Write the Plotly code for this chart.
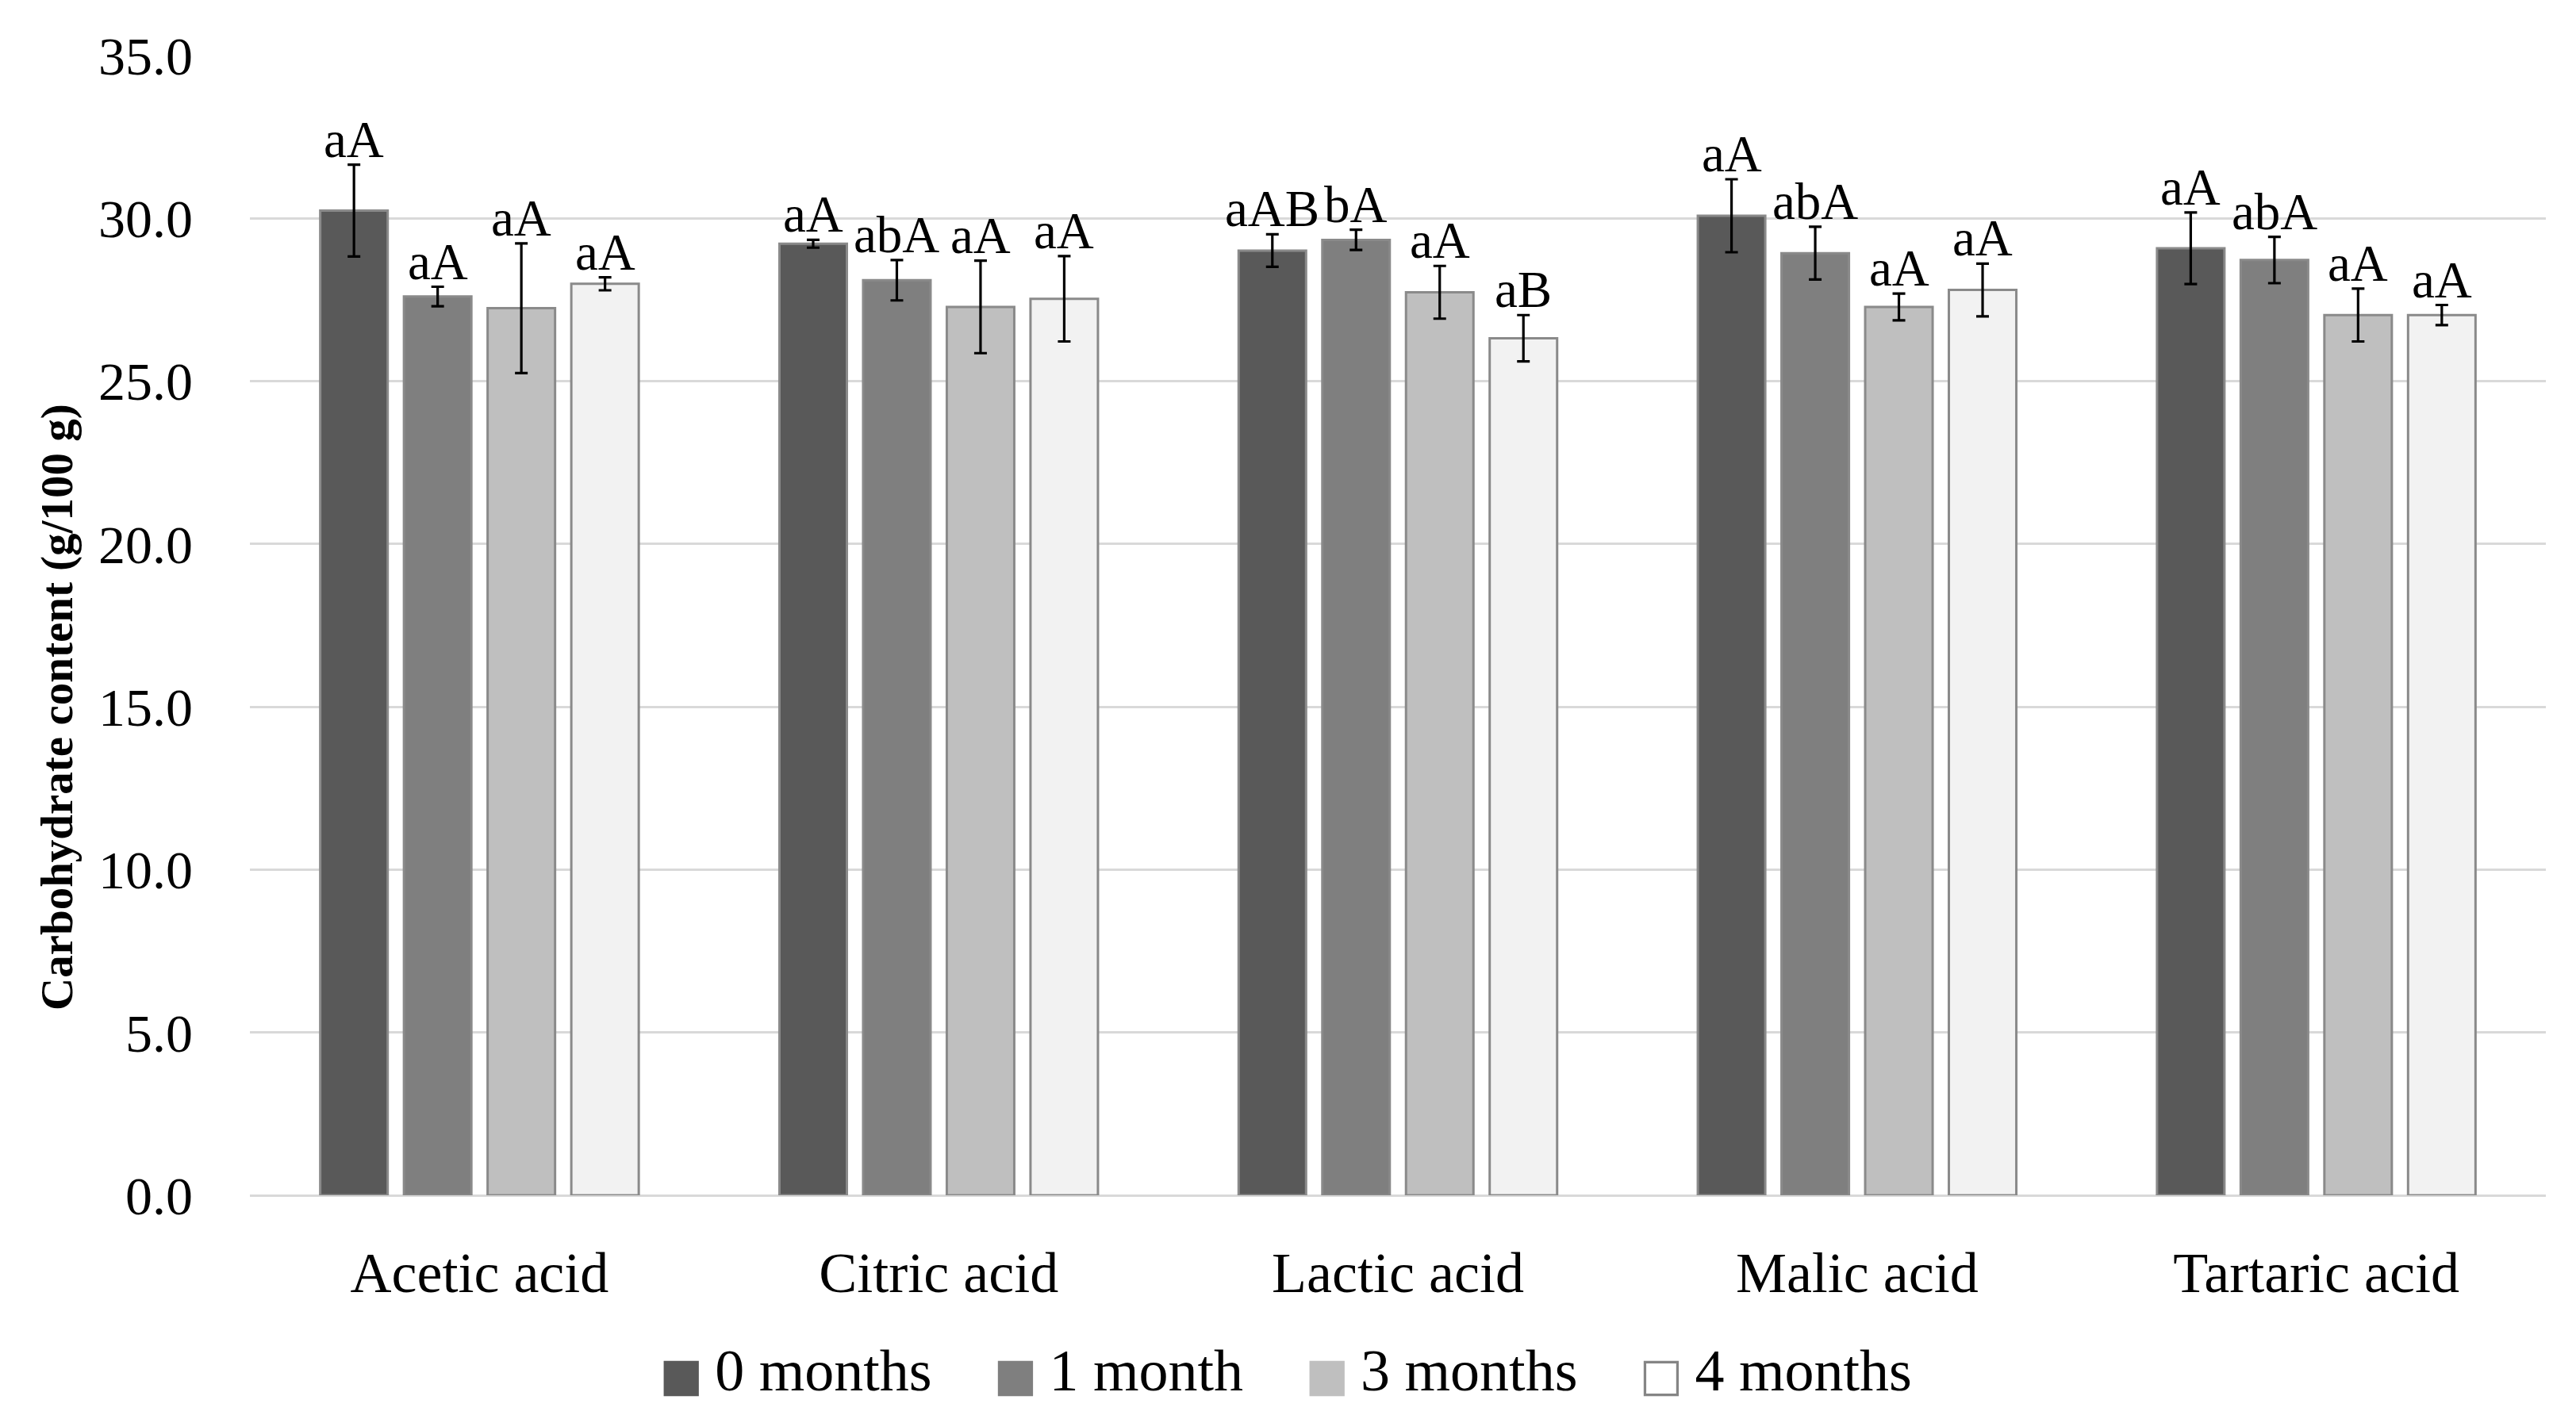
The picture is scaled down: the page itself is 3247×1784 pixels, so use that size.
import plotly.graph_objects as go

categories = ["Acetic acid", "Citric acid", "Lactic acid", "Malic acid", "Tartaric acid"]
series_names = ["0 months", "1 month", "3 months", "4 months"]

vals_0m = [30.24, 29.22, 29.01, 30.08, 29.08]
vals_1m = [27.60, 28.10, 29.34, 28.93, 28.72]
vals_3m = [27.24, 27.28, 27.73, 27.28, 27.03]
vals_4m = [27.99, 27.53, 26.32, 27.80, 27.03]

err_0m = [1.41, 0.12, 0.50, 1.12, 1.10]
err_1m = [0.30, 0.62, 0.31, 0.81, 0.71]
err_3m = [1.99, 1.42, 0.81, 0.41, 0.81]
err_4m = [0.20, 1.31, 0.71, 0.81, 0.31]

letters_0m = ["aA", "aA", "aAB", "aA", "aA"]
letters_1m = ["aA", "abA", "bA", "abA", "abA"]
letters_3m = ["aA", "aA", "aA", "aA", "aA"]
letters_4m = ["aA", "aA", "aB", "aA", "aA"]

y_title = "Carbohydrate content (g/100 g)"

colors = ["#595959", "#7f7f7f", "#bfbfbf", "#f2f2f2"]
legend_glyphs = ["■", "■", "■", "□"]
legend_glyph_colors = ["#595959", "#7f7f7f", "#bfbfbf", "#858585"]

W, H = 3247, 1784
PAGE_OFF = 8  # default page margin of the browser body
# target plot area in the screenshot: x 315..3209, y 70..1507
ML = 315 - PAGE_OFF
MT = 70 - PAGE_OFF
MR = W - (3209 - PAGE_OFF)
MB = H - (1507 - PAGE_OFF)
BARGAP = 0.271
BARGROUPGAP = 0.194
FONT = "Palatino Linotype, Book Antiqua, Liberation Serif, serif"

values = [vals_0m, vals_1m, vals_3m, vals_4m]
errors = [err_0m, err_1m, err_3m, err_4m]
letters = [letters_0m, letters_1m, letters_3m, letters_4m]

fig = go.Figure()
for name, v, e, c in zip(series_names, values, errors, colors):
    fig.add_trace(go.Bar(
        x=categories, y=v, name=name, showlegend=False,
        marker=dict(color=c, line=dict(color="#8a8a8a", width=3)),
        error_y=dict(type="data", array=e, visible=True, color="#000000",
                     thickness=3.2, width=8),
    ))

# legend entries (larger square swatches drawn as glyphs)
n = len(series_names)
for k, (name, g, gc) in enumerate(zip(series_names, legend_glyphs, legend_glyph_colors)):
    tail = "\u00a0\u2009" if k < n - 1 else ""
    fig.add_trace(go.Scatter(
        x=[None], y=[None], mode="markers",
        marker=dict(color="rgba(0,0,0,0)", size=2),
        name=(f'<span style="font-family:DejaVu Sans;font-size:58px;color:{gc}">{g}</span>'
              f'\u2009{name}{tail}'),
        hoverinfo="skip",
    ))

plot_w = W - ML - MR
plot_h = H - MT - MB
cat_w = plot_w / len(categories)
slot = cat_w * (1 - BARGAP) / n
for i in range(n):
    shift = (i - (n - 1) / 2) * slot
    for j, cat in enumerate(categories):
        fig.add_annotation(
            x=cat, y=values[i][j] + errors[i][j], text=letters[i][j],
            xref="x", yref="y", showarrow=False, xshift=shift, yshift=-6,
            yanchor="bottom", xanchor="center",
            font=dict(family=FONT, size=65, color="#000000"),
        )

# y-axis title, centred on the page height as in the reference
title_x = 72 - PAGE_OFF
title_y = H / 2 - PAGE_OFF
fig.add_annotation(
    text=f"<b>{y_title}</b>", textangle=-90, showarrow=False,
    xref="paper", yref="paper",
    x=(title_x - ML) / plot_w, y=(H - MB - title_y) / plot_h,
    xanchor="center", yanchor="middle",
    font=dict(family=FONT, size=57, color="#000000"),
)

legend_cy = 1725 - PAGE_OFF
fig.update_layout(
    width=W, height=H,
    margin=dict(l=ML, r=MR, t=MT, b=MB, autoexpand=False),
    paper_bgcolor="white", plot_bgcolor="white",
    barmode="group", bargap=BARGAP, bargroupgap=BARGROUPGAP,
    font=dict(family=FONT, size=68, color="#000000"),
    showlegend=True,
    legend=dict(
        orientation="h", xref="container", yref="container",
        x=0.5 - (20 + PAGE_OFF) / W, xanchor="center",
        y=(H - legend_cy) / H, yanchor="middle",
        font=dict(family=FONT, size=74, color="#000000"),
        traceorder="normal", itemclick=False, itemdoubleclick=False,
    ),
    xaxis=dict(
        showgrid=False, showline=False, zeroline=False,
        ticks="", ticklabelstandoff=49,
        tickfont=dict(family=FONT, size=72, color="#000000"),
    ),
    yaxis=dict(
        range=[0, 35], dtick=5, tick0=0, tickformat=".1f",
        showgrid=True, gridcolor="#d9d9d9", gridwidth=3,
        zeroline=True, zerolinecolor="#d9d9d9", zerolinewidth=3,
        showline=False, ticks="", ticklabelstandoff=71,
        tickfont=dict(family=FONT, size=68, color="#000000"),
    ),
)

fig.write_html("out.html")
